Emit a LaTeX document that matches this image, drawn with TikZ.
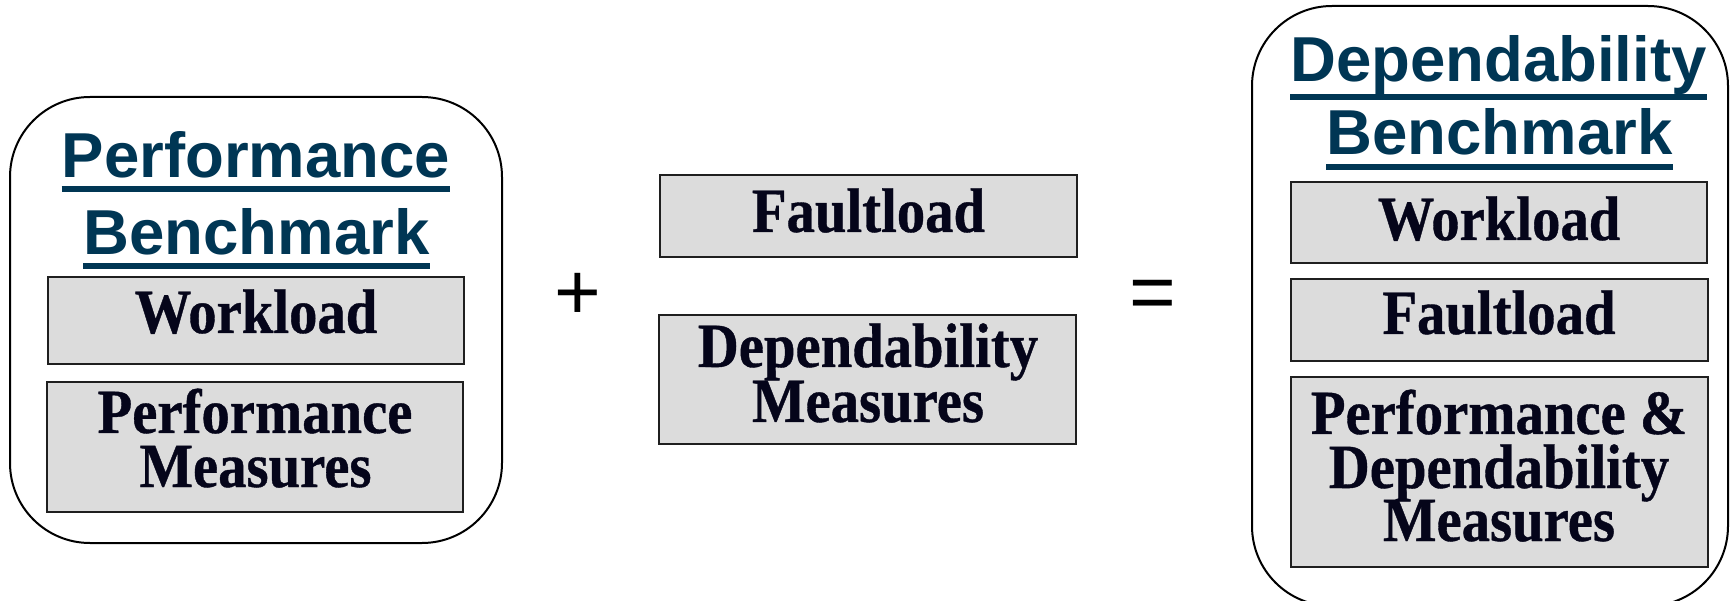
\documentclass[tikz,border=0pt]{standalone}
\usepackage{fontspec}
\newfontfamily\headfont{Liberation Sans}
\newfontfamily\itemfont{Liberation Serif}[FakeStretch=0.9, FakeBold=0.6]
\newfontfamily\signfont{Liberation Sans}
\definecolor{headblue}{HTML}{003654}
\definecolor{itemgray}{HTML}{DCDCDC}
\definecolor{inkdark}{HTML}{05051A}

\begin{document}
\begin{tikzpicture}[x=1pt,y=-1pt,
  groupframe/.style={draw=black, line width=2pt, rounded corners=80pt, fill=white, inner sep=0pt},
  itembox/.style={draw=black!88, line width=2.2pt, fill=itemgray, inner sep=0pt},
  itemtext/.style={font=\itemfont\bfseries\fontsize{63}{63}\selectfont, text=inkdark, inner sep=0pt, anchor=base},
  headtext/.style={font=\headfont\bfseries\fontsize{63.5}{63.5}\selectfont, text=headblue, inner sep=0pt, anchor=base},
  uline/.style={draw=headblue, line width=6pt},
  signtext/.style={font=\signfont\fontsize{80}{80}\selectfont, text=black, inner sep=0pt, anchor=base}]

\useasboundingbox (0,0) rectangle (1730,601);
\clip (0,0) rectangle (1730,601);
\fill[white] (0,0) rectangle (1730,601);

% ---- performance benchmark group ----
\node[groupframe, minimum width=492pt, minimum height=446pt] (perf) at (256,320) {};
\node[headtext] (perfT1) at (256,178) {Performance};
\node[headtext] (perfT2) at (256.5,255) {Benchmark};
\draw[uline] ([yshift=-11.5pt]perfT1.base west) -- ([yshift=-11.5pt]perfT1.base east);
\draw[uline] ([yshift=-11pt]perfT2.base west) -- ([yshift=-11pt]perfT2.base east);

\node[itembox, minimum width=416pt, minimum height=87pt] (pWork) at (256,320.5) {};
\node[itemtext] (pWorkT) at (256,333) {Workload};
\node[itembox, minimum width=416pt, minimum height=130pt] (pMeas) at (255,447) {};
\node[itemtext] (pMeasT1) at (255,433) {Performance};
\node[itemtext] (pMeasT2) at (255.5,487) {Measures};

% ---- operators ----
\node[signtext] (plus) at (578,320) {+};
\node[signtext] (equals) at (1153,320) {=};

% ---- added parts ----
\node[itembox, minimum width=417pt, minimum height=82pt] (mFault) at (868.5,216) {};
\node[itemtext] (mFaultT) at (868.5,232) {Faultload};
\node[itembox, minimum width=417pt, minimum height=129pt] (mMeas) at (867.5,379.5) {};
\node[itemtext] (mMeasT1) at (868,367) {Dependability};
\node[itemtext] (mMeasT2) at (868,422) {Measures};

% ---- dependability benchmark group ----
\node[groupframe, minimum width=476pt, minimum height=600pt] (dep) at (1490,306) {};
\node[headtext] (depT1) at (1498.5,82) {Dependability};
\node[headtext] (depT2) at (1499.5,155) {Benchmark};
\draw[uline] ([yshift=-15pt]depT1.base west) -- ([yshift=-15pt]depT1.base east);
\draw[uline] ([yshift=-12pt]depT2.base west) -- ([yshift=-12pt]depT2.base east);

\node[itembox, minimum width=416pt, minimum height=81pt] (dWork) at (1499,222.5) {};
\node[itemtext] (dWorkT) at (1499,240) {Workload};
\node[itembox, minimum width=417pt, minimum height=82pt] (dFault) at (1499.5,320) {};
\node[itemtext] (dFaultT) at (1499,334) {Faultload};
\node[itembox, minimum width=417pt, minimum height=190pt] (dMeas) at (1499.5,472) {};
\node[itemtext] (dMeasT1) at (1499,434) {Performance \&};
\node[itemtext] (dMeasT2) at (1499,488) {Dependability};
\node[itemtext] (dMeasT3) at (1499,541) {Measures};
\end{tikzpicture}
\end{document}
